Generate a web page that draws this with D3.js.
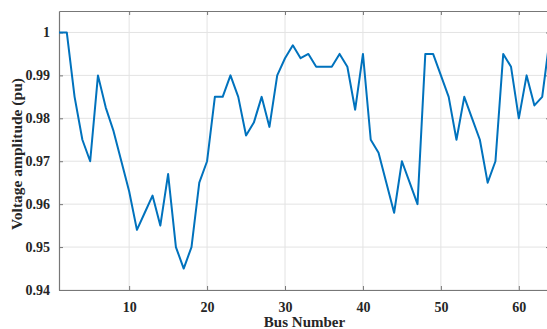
<!DOCTYPE html>
<html>
<head>
  <meta charset="utf-8">
  <script src="https://cdn.jsdelivr.net/npm/d3@7"></script>
  <style>
    body { margin: 0; background: #fff; overflow: hidden; }
    svg { display: block; }
    .lbl { font-family: "Liberation Serif", "Times New Roman", serif; font-weight: bold; fill: #262626; }
  </style>
</head>
<body>
  <script>
    // bus voltage profile
    var buses = d3.range(1, 65)
    var voltage = [1.000, 1.000, 0.985, 0.975, 0.970, 0.990, 0.9825, 0.977, 0.970, 0.963,
      0.954, 0.958, 0.962, 0.955, 0.967, 0.950, 0.945, 0.950, 0.965, 0.970,
      0.985, 0.985, 0.990, 0.985, 0.976, 0.979, 0.985, 0.978, 0.990, 0.994,
      0.997, 0.994, 0.995, 0.992, 0.992, 0.992, 0.995, 0.992, 0.982, 0.995,
      0.975, 0.972, 0.965, 0.958, 0.970, 0.965, 0.960, 0.995, 0.995, 0.990,
      0.985, 0.975, 0.985, 0.980, 0.975, 0.965, 0.970, 0.995, 0.992, 0.980,
      0.990, 0.983, 0.985, 0.999]
    var xTicks = [10, 20, 30, 40, 50, 60]
    var yTicks = [0.94, 0.95, 0.96, 0.97, 0.98, 0.99, 1]

    var W = 547, H = 329
    var m = { left: 59, top: 11, right: 550, bottom: 290 }

    var svg = d3.select('body').append('svg')
      .attr('width', W)
      .attr('height', H)

    var x = d3.scaleLinear().domain([1, 64]).range([m.left, m.right])
    var y = d3.scaleLinear().domain([0.94, 1.005]).range([m.bottom, m.top])

    // grid
    svg.append('g').selectAll('line').data(xTicks).join('line')
      .attr('x1', d => x(d)).attr('x2', d => x(d))
      .attr('y1', m.top).attr('y2', m.bottom)
      .attr('stroke', '#e3e3e3').attr('stroke-width', 1)
    svg.append('g').selectAll('line').data(yTicks).join('line')
      .attr('x1', m.left).attr('x2', m.right)
      .attr('y1', d => y(d)).attr('y2', d => y(d))
      .attr('stroke', '#e3e3e3').attr('stroke-width', 1)

    // axes (ticks inward, box on)
    var fmt = d3.format('')
    svg.append('g').attr('transform', 'translate(0,' + m.bottom + ')')
      .call(d3.axisBottom(x).tickValues(xTicks).tickSizeInner(-4).tickSizeOuter(0).tickPadding(12).tickFormat(fmt))
    svg.append('g').attr('transform', 'translate(0,' + m.top + ')')
      .call(d3.axisTop(x).tickValues(xTicks).tickSizeInner(-4).tickSizeOuter(0).tickFormat(''))
    svg.append('g').attr('transform', 'translate(' + m.left + ',0)')
      .call(d3.axisLeft(y).tickValues(yTicks).tickSizeInner(-4).tickSizeOuter(0).tickPadding(9).tickFormat(fmt))
    svg.append('g').attr('transform', 'translate(' + m.right + ',0)')
      .call(d3.axisRight(y).tickValues(yTicks).tickSizeInner(-4).tickSizeOuter(0).tickFormat(''))

    svg.selectAll('.domain').attr('stroke', '#777').attr('stroke-width', 1.2)
    svg.selectAll('.tick line').attr('stroke', '#777')
    svg.selectAll('.tick text').attr('class', 'lbl').style('font-size', '14px')

    // line
    svg.append('path')
      .datum(buses)
      .attr('fill', 'none')
      .attr('stroke', '#0072BD')
      .attr('stroke-width', 2)
      .attr('stroke-linejoin', 'round')
      .attr('d', d3.line().x(d => x(d)).y((d, i) => y(voltage[i])))

    // labels
    svg.append('text').attr('class', 'lbl')
      .attr('x', (m.left + m.right) / 2).attr('y', 327)
      .attr('text-anchor', 'middle').style('font-size', '15px')
      .text('Bus Number')
    svg.append('text').attr('class', 'lbl')
      .attr('transform', 'translate(22,154) rotate(-90)')
      .attr('text-anchor', 'middle').style('font-size', '15.5px')
      .text('Voltage amplitude (pu)')
  </script>
</body>
</html>
